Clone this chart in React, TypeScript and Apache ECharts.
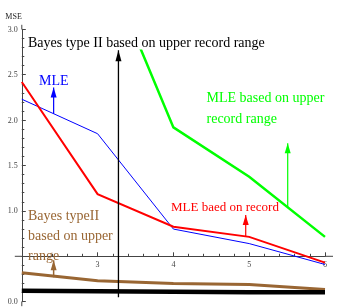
import React, { useEffect, useRef } from 'react';
import * as echarts from 'echarts';

// Sample size / record index on the x axis
const xValues = [2, 3, 4, 5, 6];
// MSE values
const mleRecord = [2.42, 1.185, 0.825, 0.714, 0.43];
const mle = [2.23, 1.85, 0.8, 0.64, 0.41];
const mleUpperX = [3, 4, 5, 6];
const mleUpper = [3.92, 1.92, 1.376, 0.714];
const bayesUpperRange = [0.32, 0.23, 0.2, 0.19, 0.135];
const bayesUpperRecordRange = [0.12, 0.115, 0.11, 0.105, 0.105];

// Annotation arrows: [x, tailY, tipY]
const arrowBayesRecord = [3.275, 0.05, 2.77];
const arrowMle = [2.42, 2.07, 2.36];
const arrowMleRecord = [4.954, 0.72, 0.954];
const arrowMleUpper = [5.508, 1.04, 1.744];
const arrowBayesRange = [2.42, 0.27, 0.457];

const yTickHidden = [0.5];
const xTickHidden = [2];

const SERIF = '"Liberation Serif", "DejaVu Serif", serif';
const BROWN = '#996633';
const GREEN = '#00ff00';

const GRID = { left: 21.8, right: 15, top: 29.3, bottom: 6.3 };
const W = 340;
const H = 308;

function pairs(xs: number[], ys: number[]) {
  return xs.map((x, i) => [x, ys[i]]);
}

function arrowSeries(a: number[], color: string, width: number, head: [number, number]) {
  return {
    type: 'line',
    silent: true,
    z: 6,
    data: [
      { value: [a[0], a[1]], symbol: 'none' },
      { value: [a[0], a[2]], symbol: 'triangle', symbolSize: head, symbolOffset: [0, head[1] / 2] },
    ],
    showSymbol: true,
    showAllSymbol: true,
    lineStyle: { color, width },
    itemStyle: { color },
  };
}

function lineSeries(name: string, data: number[][], color: string, width: number, z = 3) {
  return {
    name,
    type: 'line',
    data,
    symbol: 'none',
    smooth: false,
    z,
    lineStyle: { color, width, cap: 'butt', join: 'miter' },
  };
}

export default function App() {
  const ref = useRef<HTMLDivElement>(null);

  useEffect(() => {
    if (!ref.current) return;
    const chart = echarts.init(ref.current, undefined, { renderer: 'svg' });
    const plotH = H - GRID.top - GRID.bottom;
    const plotW = W - GRID.left - GRID.right;
    const yAxisMin = 0;
    const yAxisMax = 3;
    const xAxisCrossY = 0.5;
    const xAxisPix = GRID.top + plotH * (1 - (xAxisCrossY - yAxisMin) / (yAxisMax - yAxisMin));
    const xAxisOffset = -(H - GRID.bottom - xAxisPix);
    const axisColor = '#444';

    chart.setOption({
      animation: false,
      grid: { ...GRID, containLabel: false },
      xAxis: {
        type: 'value',
        min: 2,
        max: 6,
        interval: 1,
        position: 'bottom',
        offset: xAxisOffset,
        axisLine: { onZero: false, lineStyle: { color: axisColor, width: 1 } },
        axisTick: { inside: true, length: 4, lineStyle: { color: axisColor } },
        minorTick: { show: true, splitNumber: 5, length: 2.5, lineStyle: { color: axisColor } },
        splitLine: { show: false },
        axisLabel: {
          margin: 4,
          color: '#444',
          fontFamily: SERIF,
          fontSize: 8,
          formatter: (v: number) => (xTickHidden.includes(v) ? '' : String(v)),
        },
      },
      yAxis: {
        type: 'value',
        min: yAxisMin,
        max: yAxisMax,
        interval: 0.5,
        name: 'MSE',
        nameLocation: 'end',
        nameGap: 9,
        nameTextStyle: { fontFamily: SERIF, fontSize: 8, color: '#222', align: 'right', verticalAlign: 'bottom' },
        axisLine: { onZero: false, lineStyle: { color: axisColor, width: 1 } },
        axisTick: { inside: true, length: 4, lineStyle: { color: axisColor } },
        minorTick: { show: true, splitNumber: 5, length: 2.5, lineStyle: { color: axisColor } },
        splitLine: { show: false },
        axisLabel: {
          margin: 4,
          color: '#444',
          fontFamily: SERIF,
          fontSize: 8,
          formatter: (v: number) => (yTickHidden.includes(v) ? '' : v.toFixed(1)),
        },
      },
      series: [
        lineSeries('Bayes type II based on upper record range', pairs(xValues, bayesUpperRecordRange), '#000', 4.5, 4),
        lineSeries('Bayes typeII based on upper range', pairs(xValues, bayesUpperRange), BROWN, 3),
        lineSeries('MLE', pairs(xValues, mle), '#0000ff', 1),
        lineSeries('MLE baed on record', pairs(xValues, mleRecord), '#ff0000', 2),
        lineSeries('MLE based on upper record range', pairs(mleUpperX, mleUpper), GREEN, 2.5),
        arrowSeries(arrowBayesRecord, '#000', 1.3, [6, 11]),
        arrowSeries(arrowMle, '#0000ff', 1.2, [6, 10]),
        arrowSeries(arrowMleRecord, '#ff0000', 1.2, [6, 10]),
        arrowSeries(arrowMleUpper, GREEN, 1.2, [6, 10]),
        arrowSeries(arrowBayesRange, BROWN, 1.5, [6, 10]),
      ],
      graphic: [
        // axis extensions beyond the plotted range (Mathematica style)
        { type: 'line', z: 1, shape: { x1: GRID.left, y1: GRID.top - 4.5, x2: GRID.left, y2: GRID.top }, style: { stroke: axisColor, lineWidth: 1 } },
        { type: 'line', z: 1, shape: { x1: GRID.left, y1: H - GRID.bottom, x2: GRID.left, y2: H - GRID.bottom + 4.5 }, style: { stroke: axisColor, lineWidth: 1 } },
        { type: 'line', z: 1, shape: { x1: GRID.left - 7, y1: xAxisPix, x2: GRID.left, y2: xAxisPix }, style: { stroke: axisColor, lineWidth: 1 } },
        { type: 'line', z: 1, shape: { x1: GRID.left + plotW, y1: xAxisPix, x2: GRID.left + plotW + 8, y2: xAxisPix }, style: { stroke: axisColor, lineWidth: 1 } },
        // white backing behind the top annotation (hides the clipped green line)
        { type: 'rect', z: 90, shape: { x: 27, y: 18, width: 240, height: 31.5 }, style: { fill: '#fff' } },
        {
          type: 'text', x: 28, y: 42, z: 100,
          style: { text: 'Bayes type II based on upper record range', fill: '#000', font: `14px ${SERIF}`, verticalAlign: 'middle' },
        },
        {
          type: 'text', x: 39, y: 80, z: 100,
          style: { text: 'MLE', fill: '#0000ff', font: `14px ${SERIF}`, verticalAlign: 'middle' },
        },
        {
          type: 'text', x: 206.5, y: 97, z: 100,
          style: { text: 'MLE based on upper', fill: GREEN, font: `14px ${SERIF}`, verticalAlign: 'middle' },
        },
        {
          type: 'text', x: 206.5, y: 118, z: 100,
          style: { text: 'record range', fill: GREEN, font: `14px ${SERIF}`, verticalAlign: 'middle' },
        },
        {
          type: 'text', x: 171, y: 206, z: 100,
          style: { text: 'MLE baed on record', fill: '#ff0000', font: `13px ${SERIF}`, verticalAlign: 'middle' },
        },
        {
          type: 'text', x: 28, y: 215, z: 100,
          style: { text: 'Bayes typeII', fill: BROWN, font: `14px ${SERIF}`, verticalAlign: 'middle' },
        },
        {
          type: 'text', x: 28, y: 235, z: 100,
          style: { text: 'based on upper', fill: BROWN, font: `14px ${SERIF}`, verticalAlign: 'middle' },
        },
        {
          type: 'text', x: 28, y: 255, z: 100,
          style: { text: 'range', fill: BROWN, font: `14px ${SERIF}`, verticalAlign: 'middle' },
        },
      ],
    });
    return () => chart.dispose();
  }, []);

  return <div ref={ref} style={{ position: 'fixed', left: 0, top: 0, width: W, height: H }} />;
}
